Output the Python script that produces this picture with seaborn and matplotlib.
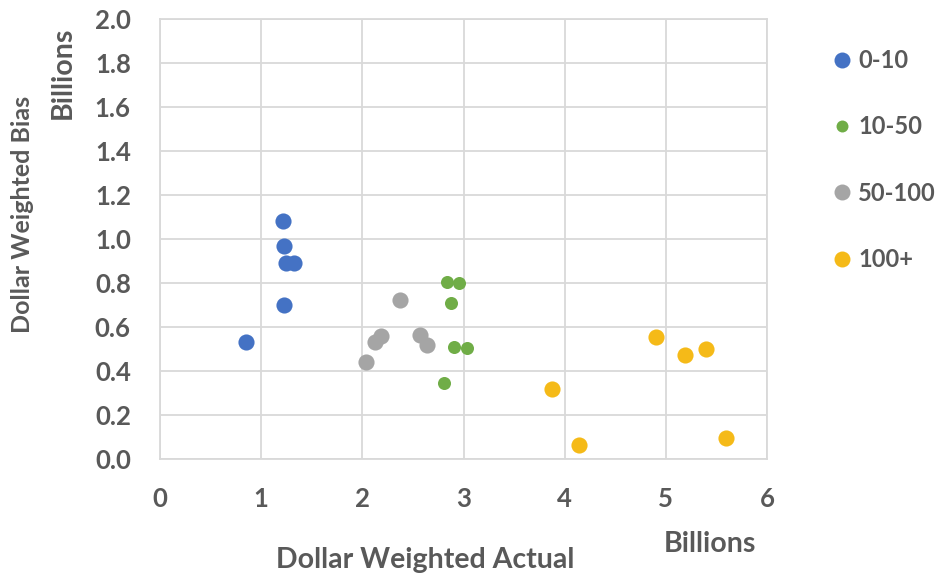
import matplotlib
matplotlib.use("Agg")
import matplotlib.pyplot as plt
from matplotlib.lines import Line2D
import seaborn as sns
import pandas as pd

# Dollar-weighted actual vs bias (billions), grouped by size bucket
groups = ["0-10", "10-50", "50-100", "100+"]
actual_0_10 = [1.22, 1.23, 1.25, 1.32, 1.23, 0.85]
bias_0_10 = [1.08, 0.97, 0.89, 0.89, 0.70, 0.53]
actual_10_50 = [2.84, 2.96, 2.88, 2.91, 3.03, 2.81]
bias_10_50 = [0.805, 0.80, 0.71, 0.51, 0.505, 0.345]
actual_50_100 = [2.37, 2.18, 2.13, 2.57, 2.64, 2.04]
bias_50_100 = [0.725, 0.56, 0.53, 0.565, 0.52, 0.44]
actual_100p = [4.90, 5.19, 5.40, 3.87, 4.14, 5.59]
bias_100p = [0.555, 0.475, 0.50, 0.32, 0.063, 0.094]

colors = ["#4472C4", "#70AD47", "#A5A5A5", "#F5BA18"]
marker_sizes = [135, 88, 135, 135]
legend_msizes = [11.5, 8.6, 11.5, 11.5]

df = pd.concat([
    pd.DataFrame({"actual": a, "bias": b, "group": g})
    for a, b, g in [
        (actual_0_10, bias_0_10, groups[0]),
        (actual_10_50, bias_10_50, groups[1]),
        (actual_50_100, bias_50_100, groups[2]),
        (actual_100p, bias_100p, groups[3]),
    ]
], ignore_index=True)

sns.set_style("white")
plt.rcParams["font.family"] = ["Lato", "DejaVu Sans"]
text_color = "#595959"
grid_color = "#D9D9D9"

fig = plt.figure(figsize=(9.38, 5.78), dpi=100)
ax = fig.add_axes([160 / 938, 1 - 459 / 578, (767 - 160) / 938, (459 - 19) / 578])

for g, c, s in zip(groups, colors, marker_sizes):
    sns.scatterplot(data=df[df["group"] == g], x="actual", y="bias",
                    color=c, s=s, linewidth=0, ax=ax, legend=False, zorder=3)

ax.set_xlim(0, 6)
ax.set_ylim(0, 2.0)
ax.set_xticks(range(0, 7))
ax.set_yticks([i / 10 for i in range(0, 21, 2)])
ax.set_yticklabels([f"{i / 10:.1f}" for i in range(0, 21, 2)])
ax.grid(True, color=grid_color, linewidth=1.3, zorder=0)
ax.set_axisbelow(True)
for sp in ax.spines.values():
    sp.set_color(grid_color)
    sp.set_linewidth(1.3)

ax.tick_params(axis="y", length=4, color=grid_color, width=1.3, pad=17,
               labelsize=18.5, labelcolor=text_color)
ax.tick_params(axis="x", length=0, pad=20, labelsize=18.5, labelcolor=text_color)
for lab in ax.get_xticklabels() + ax.get_yticklabels():
    lab.set_fontweight("bold")

ax.set_xlabel("Dollar Weighted Actual", fontsize=20.5, fontweight="bold", color=text_color)
ax.set_ylabel("Dollar Weighted Bias", fontsize=18, fontweight="bold", color=text_color)
ax.xaxis.set_label_coords((425 - 160) / 607, -(560 - 459) / 440)
ax.xaxis.label.set_verticalalignment("center")
ax.yaxis.set_label_coords(-(160 - 23) / 607, (459 - 214) / 440)
ax.yaxis.label.set_horizontalalignment("center")
ax.yaxis.label.set_verticalalignment("center")

# unit labels
fig.text(710 / 938, 1 - 544 / 578, "Billions", fontsize=20.5, fontweight="bold",
         color=text_color, ha="center", va="center")
fig.text(63 / 938, 1 - 73 / 578, "Billions", fontsize=20.5, fontweight="bold",
         color=text_color, ha="center", va="center", rotation=90)

handles = [Line2D([], [], linestyle="none", marker="o", markersize=m,
                  markerfacecolor=c, markeredgewidth=0)
           for c, m in zip(colors, legend_msizes)]
leg = fig.legend(handles, groups, loc="upper left",
                 bbox_to_anchor=(811 / 938, 1 - 28 / 578), frameon=False,
                 handlelength=0.8, handletextpad=0.3, labelspacing=1.83,
                 prop={"size": 17, "weight": "bold"})
for t in leg.get_texts():
    t.set_color(text_color)

fig.savefig("out.png", dpi=100)
